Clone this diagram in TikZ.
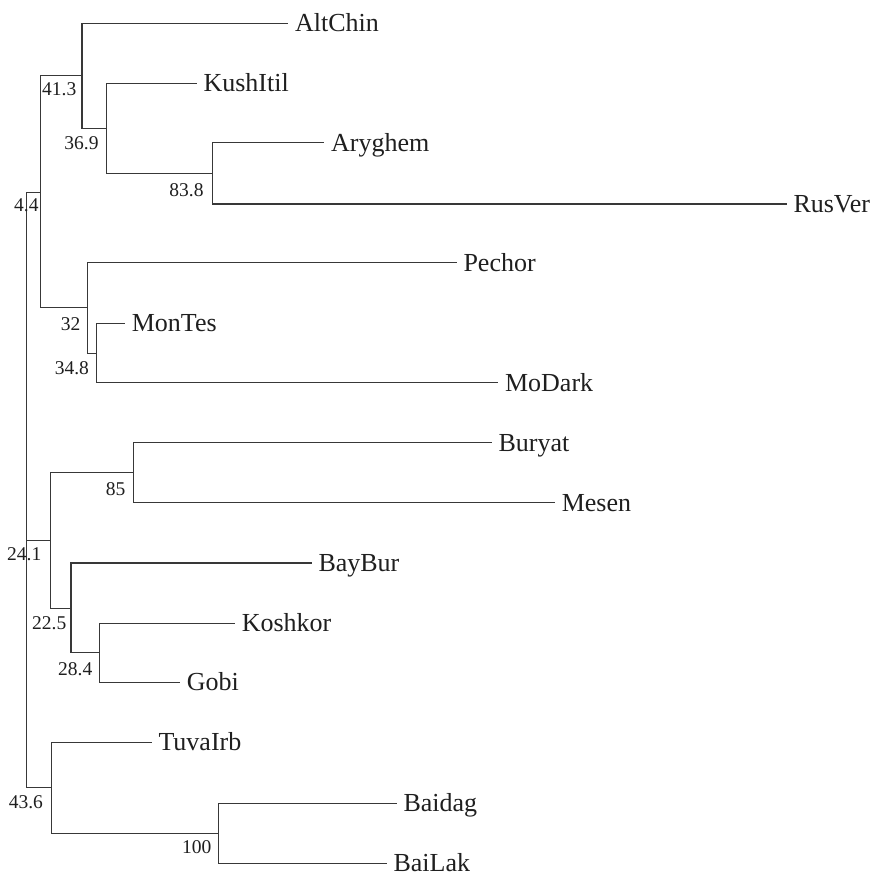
\documentclass[tikz,border=0pt]{standalone}
\usepackage{fontspec}
\setmainfont{Liberation Serif}
\usepackage{tikz}

\begin{document}
\begin{tikzpicture}[
    x=0.5pt, y=-0.5pt,
    leaf/.style={anchor=west, inner xsep=3.2pt, inner ysep=0pt, text height=8.6pt, text depth=0pt, font=\fontsize{13}{15}\selectfont, text=black!88},
    boot/.style={anchor=base east, inner sep=0pt, font=\fontsize{9.75}{11}\selectfont, text=black!88},
    branch/.style={line width=0.6pt, draw=black!78}
]
\useasboundingbox (0,0) rectangle (871,874);

% internal nodes
\coordinate (root) at (26.7,490);
\coordinate (n44)  at (40.7,192.3);
\coordinate (n413) at (82,75.5);
\coordinate (n369) at (106.7,128.3);
\coordinate (n838) at (212.3,173.3);
\coordinate (n32)  at (87.7,307.7);
\coordinate (n348) at (96.3,353.3);
\coordinate (n241) at (50.3,540.7);
\coordinate (n85)  at (133.7,472.8);
\coordinate (n225) at (71,608.8);
\coordinate (n284) at (99.7,652.8);
\coordinate (n436) at (51.7,787.5);
\coordinate (n100) at (218.3,833.3);

% leaves
\node[leaf] (altchin)  at (288.3,23.3)  {AltChin};
\node[leaf] (kushitil) at (196.7,83.3)  {KushItil};
\node[leaf] (aryghem)  at (324.3,142.7) {Aryghem};
\node[leaf] (rusver)   at (786.7,204)   {RusVer};
\node[leaf] (pechor)   at (456.7,262.7) {Pechor};
\node[leaf] (montes)   at (125,323.3)   {MonTes};
\node[leaf] (modark)   at (498.3,382.7) {MoDark};
\node[leaf] (buryat)   at (491.7,442.8) {Buryat};
\node[leaf] (mesen)    at (555,502.8)   {Mesen};
\node[leaf] (bayBur)   at (311.7,563)   {BayBur};
\node[leaf] (koshkor)  at (235,623.3)   {Koshkor};
\node[leaf] (gobi)     at (180,682.3)   {Gobi};
\node[leaf] (tuvairb)  at (151.7,742.3) {TuvaIrb};
\node[leaf] (baidag)   at (396.7,803.3) {Baidag};
\node[leaf] (bailak)   at (386.7,863.3) {BaiLak};

% branches
\draw[branch] (root) |- (n44);
\draw[branch] (root) |- (n241);
\draw[branch] (root) |- (n436);
\draw[branch] (n44) |- (n413);
\draw[branch] (n44) |- (n32);
\draw[branch] (n413) |- (altchin.west);
\draw[branch] (n413) |- (n369);
\draw[branch] (n369) |- (kushitil.west);
\draw[branch] (n369) |- (n838);
\draw[branch] (n838) |- (aryghem.west);
\draw[branch] (n838) |- (rusver.west);
\draw[branch] (n32) |- (pechor.west);
\draw[branch] (n32) |- (n348);
\draw[branch] (n348) |- (montes.west);
\draw[branch] (n348) |- (modark.west);
\draw[branch] (n241) |- (n85);
\draw[branch] (n241) |- (n225);
\draw[branch] (n85) |- (buryat.west);
\draw[branch] (n85) |- (mesen.west);
\draw[branch] (n225) |- (bayBur.west);
\draw[branch] (n225) |- (n284);
\draw[branch] (n284) |- (koshkor.west);
\draw[branch] (n284) |- (gobi.west);
\draw[branch] (n436) |- (tuvairb.west);
\draw[branch] (n436) |- (n100);
\draw[branch] (n100) |- (baidag.west);
\draw[branch] (n100) |- (bailak.west);

% bootstrap values
\node[boot] (b44)  at ([shift={(-1.7,19.4)}]n44)  {4.4};
\node[boot] (b413) at ([shift={(-5.3,19.5)}]n413) {41.3};
\node[boot] (b369) at ([shift={(-7.7,20.7)}]n369) {36.9};
\node[boot] (b838) at ([shift={(-8.3,23.4)}]n838) {83.8};
\node[boot] (b32)  at ([shift={(-7,22.3)}]n32)    {32};
\node[boot] (b348) at ([shift={(-7,20.7)}]n348)   {34.8};
\node[boot] (b85)  at ([shift={(-8,22.2)}]n85)    {85};
\node[boot] (b241) at ([shift={(-8.6,19.3)}]n241) {24.1};
\node[boot] (b225) at ([shift={(-4.3,20.5)}]n225) {22.5};
\node[boot] (b284) at ([shift={(-7,22.2)}]n284)   {28.4};
\node[boot] (b436) at ([shift={(-8.4,20.8)}]n436) {43.6};
\node[boot] (b100) at ([shift={(-6.6,20)}]n100)   {100};

\end{tikzpicture}
\end{document}
